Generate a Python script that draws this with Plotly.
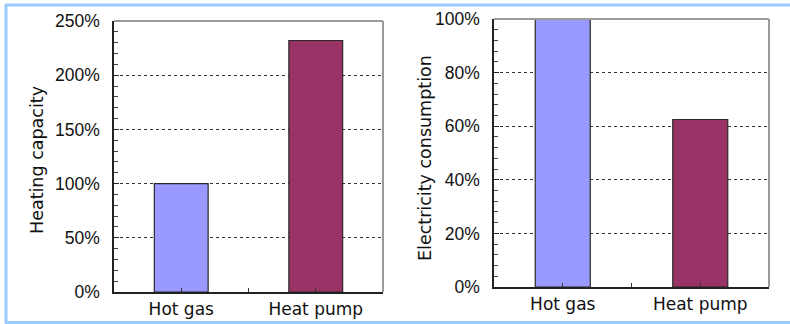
import plotly.graph_objects as go

W, H = 790, 324

categories = ["Hot gas", "Heat pump"]
heating_capacity = [100, 232]          # percent
electricity_consumption = [100, 62.5]  # percent
bar_colors = ["#9999FF", "#993366"]

left_ticks = [0, 50, 100, 150, 200, 250]
right_ticks = [0, 20, 40, 60, 80, 100]

def px_x(p):
    return p / W

def px_y(p):
    return 1 - p / H

fig = go.Figure()

fig.add_trace(go.Bar(
    x=categories, y=heating_capacity, width=0.4,
    marker=dict(color=bar_colors, line=dict(color="#2a2a2a", width=1.2)),
    xaxis="x", yaxis="y", showlegend=False, hoverinfo="skip"))
fig.add_trace(go.Bar(
    x=categories, y=electricity_consumption, width=0.4,
    marker=dict(color=bar_colors, line=dict(color="#2a2a2a", width=1.2)),
    xaxis="x2", yaxis="y2", showlegend=False, hoverinfo="skip"))

tick_font = dict(family="Liberation Sans, Arial, sans-serif", size=17.5, color="#111111")
xlab_font = dict(family="DejaVu Sans, sans-serif", size=17, color="#111111")

def yaxis_cfg(domain, rng, ticks, minor_dtick, anchor):
    return dict(
        domain=domain, range=rng, anchor=anchor, automargin=False,
        tickvals=ticks, ticktext=[f"{t}%" for t in ticks],
        ticks="inside", ticklen=5, tickcolor="#222", tickwidth=1,
        minor=dict(ticks="inside", ticklen=4, tickcolor="#444", dtick=minor_dtick, tick0=0, showgrid=False),
        showgrid=True, gridcolor="#333", griddash="3px,3px", gridwidth=1,
        zeroline=False, showline=True, linecolor="#222", linewidth=1.5,
        tickfont=tick_font, ticklabelstandoff=9, fixedrange=True)

def xaxis_cfg(domain, anchor):
    return dict(
        domain=domain, range=[-0.5, 1.5], anchor=anchor, type="category", automargin=False,
        ticks="inside", ticklen=4, tickcolor="#333",
        showgrid=False, zeroline=False, showline=True, linecolor="#222", linewidth=1.5,
        tickfont=xlab_font, ticklabelstandoff=1, fixedrange=True)

fig.update_layout(
    width=W, height=H,
    margin=dict(l=0, r=0, t=0, b=0, autoexpand=False),
    paper_bgcolor="white", plot_bgcolor="white",
    bargap=0.6,
    xaxis=xaxis_cfg([px_x(114), px_x(383)], "y"),
    yaxis=yaxis_cfg([px_y(292), px_y(21)], [0, 250], left_ticks, 10, "x"),
    xaxis2=xaxis_cfg([px_x(494), px_x(769)], "y2"),
    yaxis2=yaxis_cfg([px_y(287), px_y(19)], [0, 100], right_ticks, 4, "x2"),
)

shapes = []
# top & right frame lines of each plot area (gray)
for xr, yr in (("x domain", "y domain"), ("x2 domain", "y2 domain")):
    shapes.append(dict(type="line", xref=xr, yref=yr, x0=0, x1=1, y0=1, y1=1,
                       line=dict(color="#9a9a9a", width=2), layer="above"))
    shapes.append(dict(type="line", xref=xr, yref=yr, x0=1, x1=1, y0=0, y1=1,
                       line=dict(color="#9a9a9a", width=2), layer="above"))
# boundary tick between categories
for xr, yr in (("x", "y domain"), ("x2", "y2 domain")):
    shapes.append(dict(type="line", xref=xr, yref=yr, x0=0.5, x1=0.5, y0=0, y1=0.015,
                       line=dict(color="#333", width=1), layer="above"))
# light blue outer frame
blue = "#9ECBFF"
shapes.append(dict(type="line", xref="paper", yref="paper", x0=px_x(5), x1=1.01,
                   y0=px_y(5), y1=px_y(5), line=dict(color=blue, width=3)))
shapes.append(dict(type="line", xref="paper", yref="paper", x0=px_x(6), x1=px_x(6),
                   y0=px_y(4), y1=px_y(323.5), line=dict(color=blue, width=3)))
shapes.append(dict(type="line", xref="paper", yref="paper", x0=px_x(5), x1=1.01,
                   y0=px_y(322.5), y1=px_y(322.5), line=dict(color=blue, width=3)))
fig.update_layout(shapes=shapes)

title_font = dict(family="DejaVu Sans, sans-serif", size=17.5, color="#111111")
fig.add_annotation(text="Heating capacity", xref="paper", yref="paper",
                   x=px_x(37), y=px_y(160), textangle=-90, showarrow=False,
                   font=title_font, xanchor="center", yanchor="middle")
fig.add_annotation(text="Electricity consumption", xref="paper", yref="paper",
                   x=px_x(425), y=px_y(158), textangle=-90, showarrow=False,
                   font=title_font, xanchor="center", yanchor="middle")

fig.write_html("out.html",
               config={"displayModeBar": False},
               post_script="document.body.style.margin='0';document.body.style.padding='0';document.body.style.overflow='hidden';")
